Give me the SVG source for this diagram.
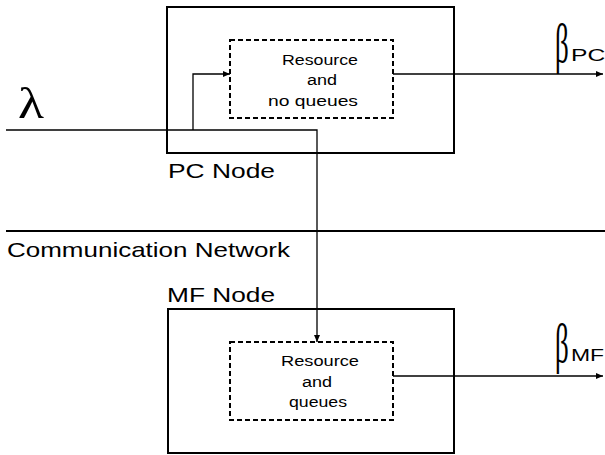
<svg xmlns="http://www.w3.org/2000/svg" width="605" height="455" viewBox="0 0 605 455">
<style>
.outer{fill:none;stroke:#000;stroke-width:2}
.inner{fill:none;stroke:#000;stroke-width:2;stroke-dasharray:5,3}
.conn{fill:none;stroke:#000;stroke-width:1.3}
.sans{font-family:"Liberation Sans",Arial,sans-serif;fill:#000}
.serif{font-family:"Liberation Serif","Times New Roman",serif;fill:#000}
.lbl{font-size:21px}
.res{font-size:14px;text-anchor:middle}
.beta{font-size:54px}
.sub{font-size:17px}
</style>
<defs>
<marker id="arr" markerWidth="7" markerHeight="6" refX="7" refY="3" orient="auto" markerUnits="userSpaceOnUse">
<path d="M0,0 L7,3 L0,6 Z" fill="#000"/>
</marker>
</defs>
<rect width="605" height="455" fill="#fff"/>
<g id="pc-node">
<rect class="outer" x="167" y="7" width="287" height="146"/>
<text class="sans lbl" x="168" y="178" textLength="107" lengthAdjust="spacingAndGlyphs">PC Node</text>
</g>
<g id="pc-resource">
<rect class="inner" x="230" y="40" width="163" height="78"/>
<text class="sans res" x="320" y="65" textLength="76" lengthAdjust="spacingAndGlyphs">Resource</text>
<text class="sans res" x="322" y="85" textLength="30" lengthAdjust="spacingAndGlyphs">and</text>
<text class="sans res" x="313" y="106" textLength="90" lengthAdjust="spacingAndGlyphs">no  queues</text>
</g>
<g id="network">
<line x1="6" y1="231" x2="605" y2="231" stroke="#000" stroke-width="2"/>
<text class="sans lbl" x="7" y="257" textLength="283" lengthAdjust="spacingAndGlyphs">Communication Network</text>
</g>
<g id="mf-node">
<rect class="outer" x="168" y="309" width="286" height="144"/>
<text class="sans lbl" x="167" y="302" textLength="108" lengthAdjust="spacingAndGlyphs">MF Node</text>
</g>
<g id="mf-resource">
<rect class="inner" x="230" y="342" width="163" height="78"/>
<text class="sans res" x="320" y="366" textLength="78" lengthAdjust="spacingAndGlyphs">Resource</text>
<text class="sans res" x="317" y="387" textLength="30" lengthAdjust="spacingAndGlyphs">and</text>
<text class="sans res" x="318" y="407" textLength="58" lengthAdjust="spacingAndGlyphs">queues</text>
</g>
<g id="labels">
<text class="serif" x="18" y="118" font-size="44" textLength="26" lengthAdjust="spacingAndGlyphs">λ</text>
<text class="serif beta" transform="translate(555,62) scale(0.5,1)">β</text>
<text class="sans sub" transform="translate(571,61) scale(1.45,1)">PC</text>
<text class="serif beta" transform="translate(555,362) scale(0.5,1)">β</text>
<text class="sans sub" transform="translate(571,361) scale(1.35,1)">MF</text>
</g>
<g id="connectors">
<polyline class="conn" points="6,130 317,130 317,342" marker-end="url(#arr)"/>
<polyline class="conn" points="193,130 193,74 230,74" marker-end="url(#arr)"/>
<line class="conn" x1="393" y1="74" x2="603" y2="74" marker-end="url(#arr)"/>
<line class="conn" x1="393" y1="376" x2="603" y2="376" marker-end="url(#arr)"/>
</g>
</svg>
